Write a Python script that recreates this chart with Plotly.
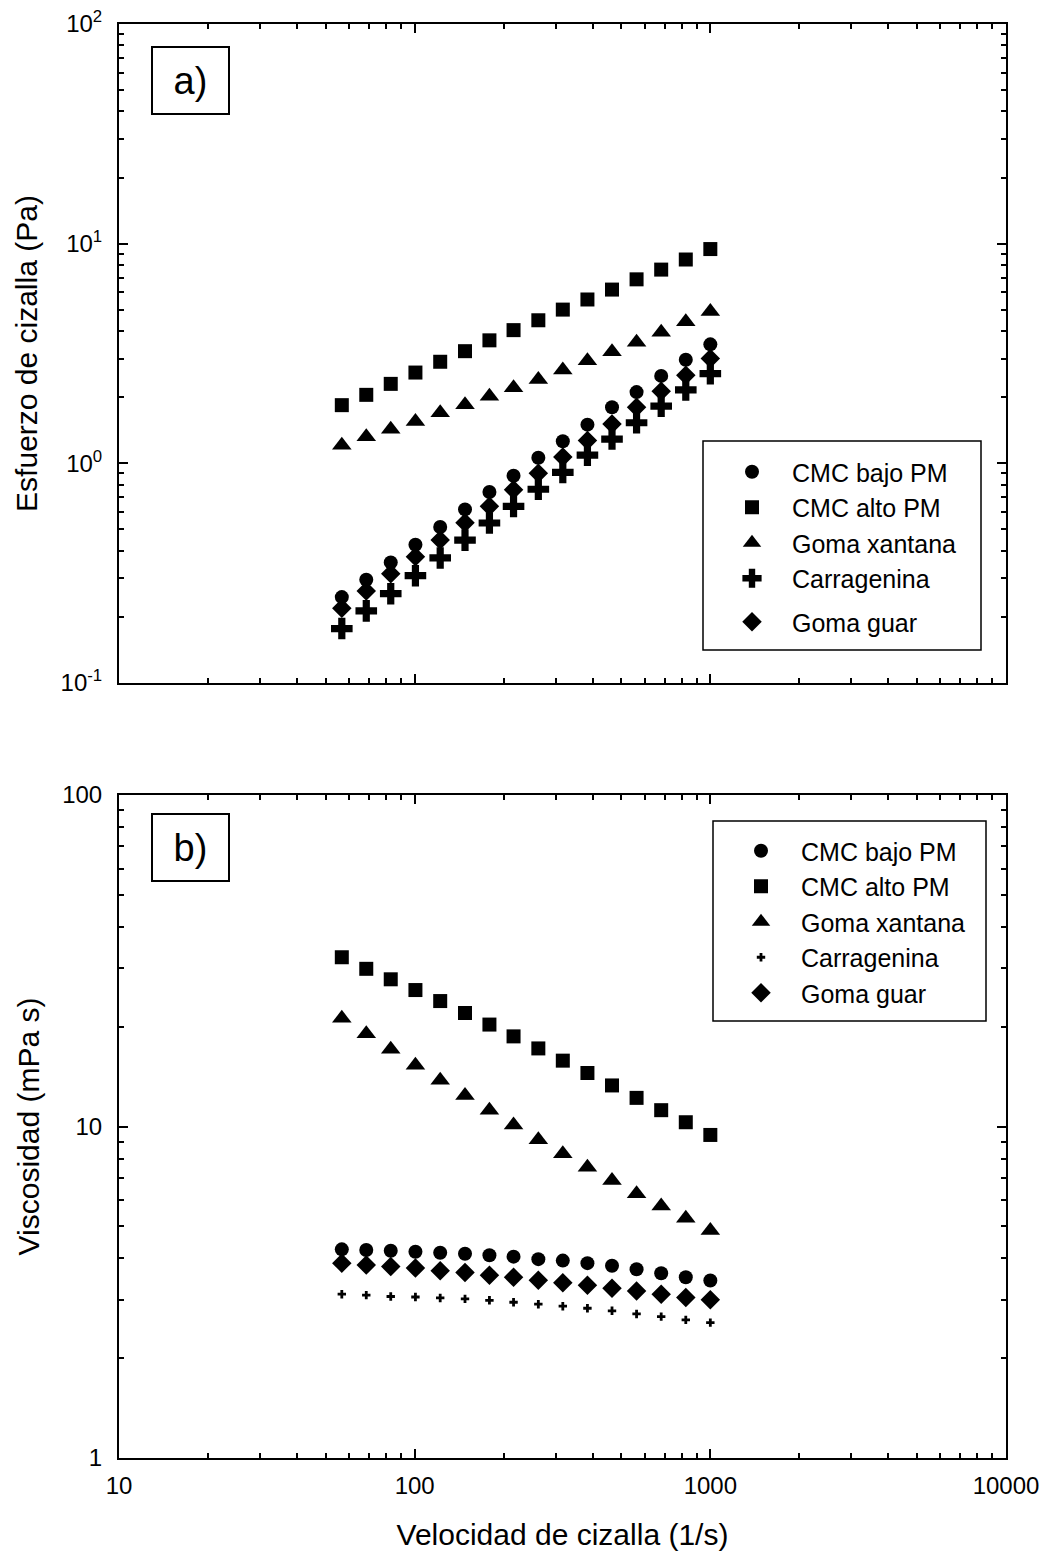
import plotly.graph_objects as go

# Shear rate (1/s), shared by both panels
shear_rate = [56.7, 68.6, 83.0, 100.6, 122, 148, 179, 216, 262, 317, 384, 465, 563, 682, 826, 1000]

# Panel a) shear stress (Pa)
stress_cmc_bajo = [0.246, 0.295, 0.354, 0.426, 0.513, 0.617, 0.740, 0.878, 1.06, 1.26, 1.50, 1.80, 2.11, 2.50, 2.96, 3.48]
stress_cmc_alto = [1.84, 2.05, 2.30, 2.59, 2.90, 3.24, 3.63, 4.04, 4.48, 5.01, 5.57, 6.18, 6.88, 7.62, 8.47, 9.45]
stress_xantana = [1.21, 1.32, 1.43, 1.55, 1.70, 1.85, 2.02, 2.21, 2.41, 2.66, 2.93, 3.22, 3.56, 3.95, 4.41, 4.91]
stress_carragenina = [0.177, 0.213, 0.255, 0.308, 0.371, 0.447, 0.535, 0.637, 0.762, 0.910, 1.09, 1.29, 1.53, 1.82, 2.16, 2.56]
stress_guar = [0.219, 0.262, 0.314, 0.376, 0.448, 0.537, 0.637, 0.758, 0.901, 1.07, 1.27, 1.51, 1.80, 2.13, 2.52, 3.00]

# Panel b) viscosity (mPa s)
visc_cmc_bajo = [4.26, 4.24, 4.22, 4.19, 4.16, 4.13, 4.09, 4.05, 3.98, 3.94, 3.87, 3.80, 3.71, 3.61, 3.51, 3.43]
visc_cmc_alto = [32.4, 29.9, 27.8, 25.8, 23.9, 22.0, 20.3, 18.7, 17.2, 15.8, 14.5, 13.3, 12.2, 11.2, 10.3, 9.43]
visc_xantana = [21.2, 19.05, 17.1, 15.3, 13.8, 12.4, 11.2, 10.1, 9.12, 8.28, 7.54, 6.87, 6.27, 5.76, 5.29, 4.86]
visc_carragenina = [3.12, 3.10, 3.07, 3.06, 3.04, 3.02, 2.99, 2.95, 2.91, 2.87, 2.83, 2.78, 2.72, 2.67, 2.61, 2.56]
visc_guar = [3.87, 3.82, 3.78, 3.74, 3.67, 3.63, 3.56, 3.51, 3.44, 3.38, 3.32, 3.25, 3.19, 3.12, 3.05, 3.00]

series_names = ["CMC bajo PM", "CMC alto PM", "Goma xantana", "Carragenina", "Goma guar"]

x_ticks = [10, 100, 1000, 10000]
x_ticktext = ["10", "100", "1000", "10000"]
ya_ticks = [0.1, 1, 10, 100]
ya_ticktext = ["10<sup>-1</sup>", "10<sup>0</sup>", "10<sup>1</sup>", "10<sup>2</sup>"]
yb_ticks = [1, 10, 100]
yb_ticktext = ["1", "10", "100"]

FONT = "Arial, Liberation Sans, sans-serif"
W, H = 1050, 1560
ML, MR, MT, MB = 119, 44, 24, 102
PW, PH = W - ML - MR, H - MT - MB


def fx(px):
    return (px - ML) / PW


def fy(py):
    return (H - MB - py) / PH


def minor_vals(lo_exp, hi_exp):
    vals = []
    for e in range(lo_exp, hi_exp):
        for m in range(2, 10):
            vals.append(m * 10 ** e)
    return vals


fig = go.Figure()

styles_a = [
    dict(symbol="circle", size=14),
    dict(symbol="square", size=14),
    dict(symbol="triangle-up", size=17),
    dict(symbol="cross", size=18),
    dict(symbol="diamond", size=15),
]
styles_b = [
    dict(symbol="circle", size=14),
    dict(symbol="square", size=14),
    dict(symbol="triangle-up", size=17),
    dict(symbol="cross", size=7),
    dict(symbol="diamond", size=15),
]

stress = [stress_cmc_bajo, stress_cmc_alto, stress_xantana, stress_carragenina, stress_guar]
visc = [visc_cmc_bajo, visc_cmc_alto, visc_xantana, visc_carragenina, visc_guar]

for i, (name, ys, st) in enumerate(zip(series_names, stress, styles_a)):
    fig.add_trace(go.Scatter(
        x=shear_rate, y=ys, name=name, mode="markers",
        marker=dict(color="black", line=dict(width=0), **st),
        xaxis="x", yaxis="y", legend="legend",
        legendgroup="a2" if i == 4 else "a1",
    ))

for name, ys, st in zip(series_names, visc, styles_b):
    fig.add_trace(go.Scatter(
        x=shear_rate, y=ys, name=name, mode="markers",
        marker=dict(color="black", line=dict(width=0), **st),
        xaxis="x2", yaxis="y2", legend="legend2",
    ))

axis_common = dict(
    type="log", showline=True, linecolor="black", linewidth=2, mirror="ticks",
    ticks="inside", ticklen=9, tickwidth=1.5, tickcolor="black",
    showgrid=False, zeroline=False, tickmode="array",
    tickfont=dict(family=FONT, size=24, color="black"),
    minor=dict(ticks="inside", ticklen=5, tickwidth=1.5, tickcolor="black",
               showgrid=False, tickmode="array"),
)

top_dom = [fy(683), 1.0]
bot_dom = [0.0, fy(795)]

xa = dict(axis_common)
xa.update(range=[1, 4], domain=[0, 1], anchor="y", tickvals=x_ticks, ticktext=x_ticktext,
          showticklabels=False)
xa["minor"] = dict(axis_common["minor"], tickvals=minor_vals(1, 4))

xb = dict(axis_common)
xb.update(range=[1, 4], domain=[0, 1], anchor="y2", tickvals=x_ticks, ticktext=x_ticktext,
          ticklabelstandoff=5,
          title=dict(text="Velocidad de cizalla (1/s)", font=dict(family=FONT, size=30, color="black"),
                     standoff=26))
xb["minor"] = dict(axis_common["minor"], tickvals=minor_vals(1, 4))

ya = dict(axis_common)
ya.update(range=[-1, 2], domain=top_dom, anchor="x", tickvals=ya_ticks, ticktext=ya_ticktext,
          ticklabelstandoff=10,
          title=dict(text="Esfuerzo de cizalla (Pa)", font=dict(family=FONT, size=30, color="black"),
                     standoff=14))
ya["minor"] = dict(axis_common["minor"], tickvals=minor_vals(-1, 2))

yb = dict(axis_common)
yb.update(range=[0, 2], domain=bot_dom, anchor="x2", tickvals=yb_ticks, ticktext=yb_ticktext,
          ticklabelstandoff=10,
          title=dict(text="Viscosidad (mPa s)", font=dict(family=FONT, size=30, color="black"),
                     standoff=14))
yb["minor"] = dict(axis_common["minor"], tickvals=minor_vals(0, 2))

legend_common = dict(
    font=dict(family=FONT, size=25, color="black"),
    bgcolor="rgba(0,0,0,0)", borderwidth=0, itemwidth=70,
    xanchor="left", yanchor="top", itemclick=False, itemdoubleclick=False,
)

fig.update_layout(
    width=W, height=H,
    margin=dict(l=ML, r=MR, t=MT, b=MB, autoexpand=False),
    paper_bgcolor="white", plot_bgcolor="white",
    font=dict(family=FONT, color="black"),
    xaxis=xa, xaxis2=xb, yaxis=ya, yaxis2=yb,
    legend=dict(legend_common, x=fx(712), y=fy(449), traceorder="grouped", tracegroupgap=8),
    legend2=dict(legend_common, x=fx(721), y=fy(828)),
    shapes=[
        dict(type="rect", xref="paper", yref="paper", x0=fx(703), x1=fx(981), y0=fy(650), y1=fy(441),
             line=dict(color="black", width=1.5)),
        dict(type="rect", xref="paper", yref="paper", x0=fx(713), x1=fx(986), y0=fy(1021), y1=fy(821),
             line=dict(color="black", width=1.5)),
    ],
    annotations=[
        dict(text="a)", xref="paper", yref="paper", x=fx(151), y=fy(46), xanchor="left", yanchor="top",
             showarrow=False, font=dict(family=FONT, size=38, color="black"),
             width=75, height=65, bordercolor="black", borderwidth=2, borderpad=0, align="center",
             valign="middle"),
        dict(text="b)", xref="paper", yref="paper", x=fx(151), y=fy(813), xanchor="left", yanchor="top",
             showarrow=False, font=dict(family=FONT, size=38, color="black"),
             width=75, height=65, bordercolor="black", borderwidth=2, borderpad=0, align="center",
             valign="middle"),
    ],
)

fig.write_html("out.html")
